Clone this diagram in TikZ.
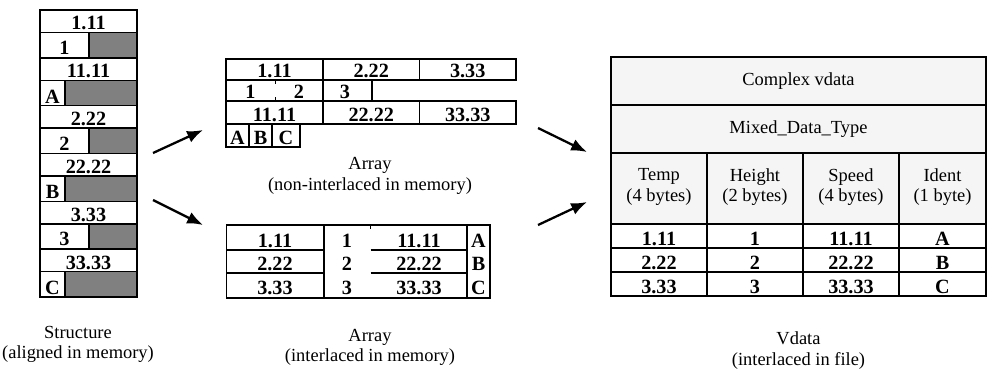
\documentclass[tikz,border=0pt]{standalone}
\usepackage{fontspec}
\setmainfont{Liberation Serif}
\usetikzlibrary{arrows.meta}
\tikzset{
    cell/.style = {draw, line width=0.9pt},
    thincell/.style = {draw, line width=0.7pt},
    val/.style = {font=\fontsize{11.5}{13}\selectfont\bfseries, inner sep=0pt, anchor=base},
    lbl/.style = {font=\fontsize{10.5}{11.5}\selectfont, align=center, inner sep=0pt},
    flow/.style = {line width=1.3pt, -{Latex[length=9pt,width=7pt]}},
}
\begin{document}
\begin{tikzpicture}[x=0.02cm, y=-0.02cm]
\useasboundingbox (0,0) rectangle (989,368);

\foreach \tv/\hv/\sv/\iv [count=\k from 0] in {1.11/1/11.11/A, 2.22/2/22.22/B, 3.33/3/33.33/C}{
    \pgfmathsetmacro\yo{10+95.67*\k}
    \draw[cell] (40,\yo) rectangle (137,\yo+22.5);
    \node[val] (st\k t) at (88.5,\yo+20) {\tv};
    \draw[cell] (40,\yo+22.5) rectangle (137,\yo+47.8);
    \draw[cell, fill=gray] (89,\yo+22.5) rectangle (137,\yo+47.8);
    \node[val] (st\k h) at (64.5,\yo+44.5) {\hv};
    \draw[cell] (40,\yo+47.8) rectangle (137,\yo+70.3);
    \node[val] (st\k s) at (88.5,\yo+67.8) {\sv};
    \draw[cell] (40,\yo+70.3) rectangle (137,\yo+95.67);
    \draw[cell, fill=gray] (65,\yo+70.3) rectangle (137,\yo+95.67);
    \node[val] (st\k i) at (52.5,\yo+93) {\iv};
}
\node[lbl] (stname) at (78,344.5) {Structure\\(aligned in memory)};

\foreach \xl/\xr/\tv/\sv [count=\j] in {226/323/1.11/11.11, 323/419.5/2.22/22.22, 419.5/516/3.33/33.33}{
    \draw[cell] (\xl,59) rectangle (\xr,80);
    \node[val] (na\j t) at ({(\xl+\xr)/2},77) {\tv};
    \draw[cell] (\xl,101) rectangle (\xr,124);
    \node[val] (na\j s) at ({(\xl+\xr)/2},121.5) {\sv};
}
\draw[cell] (226,80) -- (226,101) (323,80) -- (323,101) (372,80) -- (372,101);
\draw[thin] (275,80) -- (275,84) (275,97) -- (275,101);
\node[val] (na1 h) at (250.5,98) {1};
\node[val] (na2 h) at (299,98) {2};
\node[val] (na3 h) at (345,98) {3};
\foreach \xl/\xr/\iv [count=\j] in {226/249/A, 249/272/B, 272/300/C}{
    \draw[cell] (\xl,124) rectangle (\xr,147);
    \node[val] (na\j i) at ({(\xl+\xr)/2},144.5) {\iv};
}
\node[lbl] (naname) at (370,176) {Array\\(non-interlaced in memory)};

\draw[cell] (226.7,225) rectangle (490,298);
\draw[cell] (324,225) -- (324,298) (467,225) -- (467,298);
\draw[cell] (226.7,250) -- (324,250) (370.7,250) -- (467,250);
\draw[cell] (226.7,273) -- (324,273) (370.7,273) -- (467,273);
\draw[thin] (370.7,225) -- (370.7,229);
\foreach \tv/\hv/\sv/\iv [count=\k from 0] in {1.11/1/11.11/A, 2.22/2/22.22/B, 3.33/3/33.33/C}{
    \pgfmathsetmacro\yb{247+23.7*\k}
    \node[val] (ia\k t) at (275,\yb) {\tv};
    \node[val] (ia\k h) at (347,\yb) {\hv};
    \node[val] (ia\k s) at (419,\yb) {\sv};
    \node[val] (ia\k i) at (478.5,\yb) {\iv};
}
\node[lbl] (ianame) at (370,347) {Array\\(interlaced in memory)};

\fill[gray!8] (611,57) rectangle (986,224);
\draw[thincell] (611,57) rectangle (986,296);
\draw[thincell] (611,105) -- (986,105) (611,153) -- (986,153);
\draw[thincell] (707,153) -- (707,296) (803,153) -- (803,296) (899,153) -- (899,296);
\draw[cell] (611,224) -- (986,224) (611,248) -- (986,248) (611,272) -- (986,272) (611,296) -- (986,296);
\node[lbl] (cvdata) at (798.5,81) {Complex vdata};
\node[lbl] (mixed) at (798.5,129) {Mixed\_Data\_Type};
\node[lbl] (hd1) at (659,187) {Temp\\(4 bytes)};
\node[lbl] (hd2) at (755,187) {Height\\(2 bytes)};
\node[lbl] (hd3) at (851,187) {Speed\\(4 bytes)};
\node[lbl] (hd4) at (942.5,187) {Ident\\(1 byte)};
\foreach \tv/\hv/\sv/\iv [count=\k from 0] in {1.11/1/11.11/A, 2.22/2/22.22/B, 3.33/3/33.33/C}{
    \pgfmathsetmacro\yb{245.5+24*\k}
    \node[val] (vd\k t) at (659,\yb) {\tv};
    \node[val] (vd\k h) at (755,\yb) {\hv};
    \node[val] (vd\k s) at (851,\yb) {\sv};
    \node[val] (vd\k i) at (942.5,\yb) {\iv};
}
\node[lbl] (vdname) at (798.5,350.5) {Vdata\\(interlaced in file)};

\coordinate (stout1) at (153,153);
\coordinate (nain) at (203,130);
\coordinate (stout2) at (153,200);
\coordinate (iain) at (203,225);
\coordinate (naout) at (538,128);
\coordinate (vdin1) at (587,152);
\coordinate (iaout) at (538,225);
\coordinate (vdin2) at (587,202);
\draw[flow] (stout1) -- (nain);
\draw[flow] (stout2) -- (iain);
\draw[flow] (naout) -- (vdin1);
\draw[flow] (iaout) -- (vdin2);
\end{tikzpicture}
\end{document}
